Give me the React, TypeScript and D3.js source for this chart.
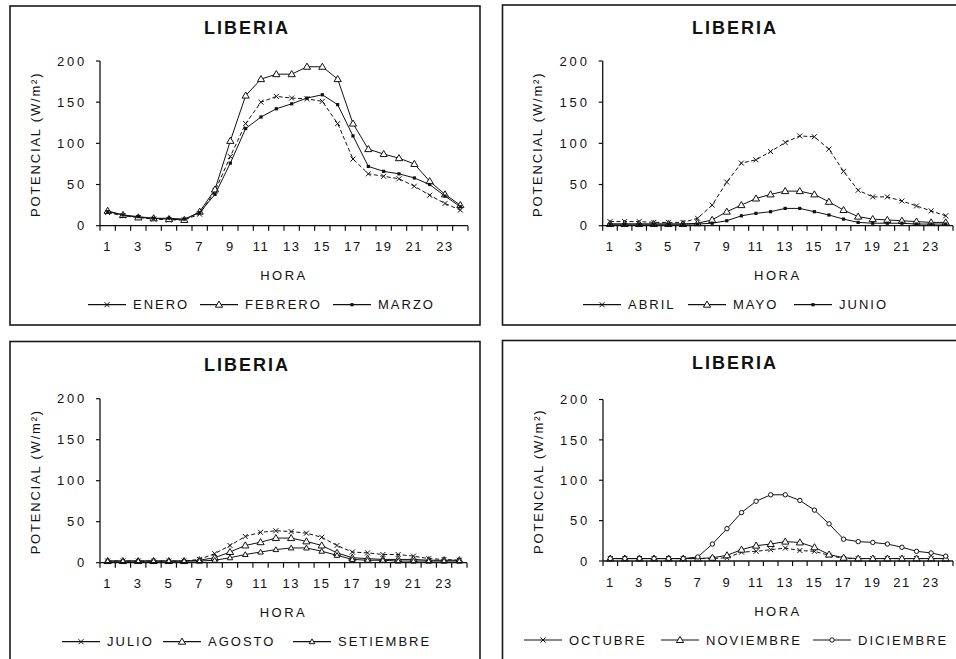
import React from "react";
import * as d3 from "d3";

// ---------- DATA ----------
const hours = [1, 2, 3, 4, 5, 6, 7, 8, 9, 10, 11, 12, 13, 14, 15, 16, 17, 18, 19, 20, 21, 22, 23, 24];
const hourLabels = ["1", "3", "5", "7", "9", "11", "13", "15", "17", "19", "21", "23"];
const yTicks = [0, 50, 100, 150, 200];
const title = "LIBERIA";
const xTitle = "HORA";
const yTitle = "POTENCIAL (W/m²)";

const enero = [16, 12, 10, 8, 7, 7, 14, 42, 84, 124, 150, 157, 155, 154, 151, 124, 81, 63, 60, 57, 48, 37, 27, 19];
const febrero = [18, 13, 10, 9, 8, 7, 17, 44, 103, 158, 178, 184, 184, 193, 193, 178, 124, 93, 87, 82, 75, 54, 38, 25];
const marzo = [17, 13, 11, 9, 9, 8, 16, 38, 76, 118, 132, 142, 148, 155, 159, 147, 109, 72, 66, 63, 58, 50, 36, 23];

const abril = [5, 5, 5, 4, 4, 4, 9, 25, 53, 76, 80, 90, 101, 109, 108, 93, 66, 43, 35, 35, 30, 24, 18, 12];
const mayo = [2, 2, 2, 2, 2, 2, 3, 7, 17, 25, 33, 38, 42, 42, 38, 29, 19, 11, 8, 7, 6, 5, 4, 4];
const junio = [2, 2, 2, 2, 2, 2, 2, 3, 6, 12, 15, 17, 21, 21, 17, 13, 8, 4, 3, 3, 3, 2, 2, 2];

const julio = [2, 2, 2, 2, 2, 2, 4, 11, 21, 32, 37, 39, 38, 36, 31, 21, 13, 12, 10, 10, 8, 5, 4, 3];
const agosto = [2, 2, 2, 2, 2, 2, 3, 6, 13, 21, 25, 30, 30, 26, 21, 12, 6, 5, 4, 4, 4, 3, 3, 3];
const setiembre = [2, 2, 2, 2, 2, 2, 2, 3, 6, 10, 13, 16, 18, 18, 14, 9, 4, 3, 3, 2, 2, 2, 2, 2];

const octubre = [3, 3, 3, 3, 3, 3, 3, 3, 4, 11, 12, 14, 16, 13, 12, 7, 3, 3, 3, 3, 3, 3, 3, 3];
const noviembre = [3, 3, 3, 3, 3, 3, 3, 4, 7, 14, 19, 21, 24, 23, 17, 8, 4, 3, 3, 3, 3, 3, 3, 3];
const diciembre = [3, 3, 3, 3, 3, 3, 5, 21, 40, 60, 74, 82, 82, 75, 63, 46, 27, 24, 23, 21, 17, 12, 10, 6];

const panelSeries = [
  [
    { name: "ENERO", values: enero, marker: "x", dashed: true },
    { name: "FEBRERO", values: febrero, marker: "tri", dashed: false },
    { name: "MARZO", values: marzo, marker: "sq", dashed: false },
  ],
  [
    { name: "ABRIL", values: abril, marker: "x", dashed: true },
    { name: "MAYO", values: mayo, marker: "tri", dashed: false },
    { name: "JUNIO", values: junio, marker: "sq", dashed: false },
  ],
  [
    { name: "JULIO", values: julio, marker: "x", dashed: true },
    { name: "AGOSTO", values: agosto, marker: "tri", dashed: false },
    { name: "SETIEMBRE", values: setiembre, marker: "tris", dashed: false },
  ],
  [
    { name: "OCTUBRE", values: octubre, marker: "x", dashed: true },
    { name: "NOVIEMBRE", values: noviembre, marker: "tri", dashed: false },
    { name: "DICIEMBRE", values: diciembre, marker: "circ", dashed: false },
  ],
];

// ---------- LAYOUT ----------
const layouts = [
  { fx: 10, fy: 6, fw: 470, fh: 319, x0: 100, x1: 468, yTop: 61, yBot: 225.7, tcx: 247, tcy: 28, legLines: [88, 200, 333] },
  { fx: 502.5, fy: 5, fw: 470, fh: 320, x0: 602.7, x1: 953, yTop: 61, yBot: 225.7, tcx: 735, tcy: 28, legLines: [583, 688, 794] },
  { fx: 10, fy: 341.5, fw: 470, fh: 340, x0: 100, x1: 467, yTop: 398.7, yBot: 562.7, tcx: 247, tcy: 365, legLines: [62, 163, 293] },
  { fx: 502.5, fy: 340.5, fw: 470, fh: 340, x0: 603, x1: 953, yTop: 399.5, yBot: 561, tcx: 735, tcy: 363, legLines: [524, 661, 813] },
];

const FONT = "'Liberation Sans', Arial, sans-serif";
const INK = "#111";

function Marker({ type, x, y }) {
  if (type === "x")
    return <path d={`M${x - 2.5},${y - 2.5}L${x + 2.5},${y + 2.5}M${x - 2.5},${y + 2.5}L${x + 2.5},${y - 2.5}`} stroke={INK} strokeWidth={1} fill="none" />;
  if (type === "tri")
    return <path d={`M${x},${y - 3.6}L${x + 3.6},${y + 2.5}L${x - 3.6},${y + 2.5}Z`} stroke={INK} strokeWidth={1} fill="white" />;
  if (type === "tris")
    return <path d={`M${x},${y - 2.8}L${x + 2.8},${y + 2}L${x - 2.8},${y + 2}Z`} stroke={INK} strokeWidth={1} fill="white" />;
  if (type === "sq") return <rect x={x - 1.6} y={y - 1.6} width={3.2} height={3.2} fill={INK} />;
  if (type === "circ") return <circle cx={x} cy={y} r={2.2} stroke={INK} strokeWidth={1} fill="white" />;
  return null;
}

function Panel({ lay, series }) {
  const x = d3.scalePoint().domain(hours).range([lay.x0, lay.x1]).padding(0.5);
  const y = d3.scaleLinear().domain([0, 200]).range([lay.yBot, lay.yTop]);
  const step = x.step();
  const bounds = hours.map((h) => x(h) - step / 2).concat([x(hours[hours.length - 1]) + step / 2]);
  const line = d3
    .line()
    .x((_, i) => x(hours[i]))
    .y((d) => y(d));
  const legY = lay.yBot + 79;
  return (
    <g>
      <rect x={lay.fx} y={lay.fy} width={lay.fw} height={lay.fh} fill="white" stroke="#1a1a1a" strokeWidth={1.6} />
      <text x={lay.tcx} y={lay.tcy} dy="0.36em" textAnchor="middle" fontFamily={FONT} fontWeight="bold" fontSize={18} letterSpacing={2} fill={INK}>
        {title}
      </text>
      {/* y axis */}
      <line x1={lay.x0} x2={lay.x0} y1={y(200)} y2={y(0)} stroke={INK} strokeWidth={1.3} />
      {yTicks.map((t) => (
        <g key={t}>
          <line x1={lay.x0 - 4} x2={lay.x0} y1={y(t)} y2={y(t)} stroke={INK} strokeWidth={1.2} />
          <text x={lay.x0 - 13} y={y(t)} dy="0.36em" textAnchor="end" fontFamily={FONT} fontSize={13} letterSpacing={2.8} fill={INK}>
            {t}
          </text>
        </g>
      ))}
      <text
        transform={`translate(${lay.x0 - 65},${(lay.yTop + lay.yBot) / 2 + 1}) rotate(-90)`}
        dy="0.36em"
        textAnchor="middle"
        fontFamily={FONT}
        fontSize={13}
        letterSpacing={1.8}
        fill={INK}
      >
        {yTitle}
      </text>
      {/* series */}
      {series.map((s) => (
        <g key={s.name}>
          <path d={line(s.values)} fill="none" stroke={INK} strokeWidth={1} strokeDasharray={s.dashed ? "4,2.5" : undefined} />
          {s.values.map((v, i) => (
            <Marker key={i} type={s.marker} x={x(hours[i])} y={y(v)} />
          ))}
        </g>
      ))}
      {/* x axis */}
      <line x1={lay.x0} x2={lay.x1} y1={y(0)} y2={y(0)} stroke={INK} strokeWidth={1.3} />
      {bounds.map((b, i) => (
        <line key={i} x1={b} x2={b} y1={y(0)} y2={y(0) + 5} stroke={INK} strokeWidth={1.2} />
      ))}
      {hourLabels.map((l) => (
        <text key={l} x={x(+l)} y={y(0) + 21} dy="0.36em" textAnchor="middle" fontFamily={FONT} fontSize={13} letterSpacing={1.5} fill={INK}>
          {l}
        </text>
      ))}
      <text x={(lay.x0 + lay.x1) / 2} y={y(0) + 50} dy="0.36em" textAnchor="middle" fontFamily={FONT} fontSize={13} letterSpacing={2.5} fill={INK}>
        {xTitle}
      </text>
      {/* legend */}
      {series.map((s, i) => {
        const lx = lay.legLines[i];
        return (
          <g key={s.name}>
            <line x1={lx} x2={lx + 38} y1={legY} y2={legY} stroke={INK} strokeWidth={1.2} />
            <Marker type={s.marker} x={lx + 19} y={legY} />
            <text x={lx + 45} y={legY} dy="0.36em" fontFamily={FONT} fontSize={13} letterSpacing={2} fill={INK}>
              {s.name}
            </text>
          </g>
        );
      })}
    </g>
  );
}

export default function App() {
  return (
    <svg width={956} height={659} style={{ position: "absolute", left: 0, top: 0, background: "white" }}>
      <rect width={956} height={659} fill="white" />
      {layouts.map((lay, i) => (
        <Panel key={i} lay={lay} series={panelSeries[i]} />
      ))}
    </svg>
  );
}
